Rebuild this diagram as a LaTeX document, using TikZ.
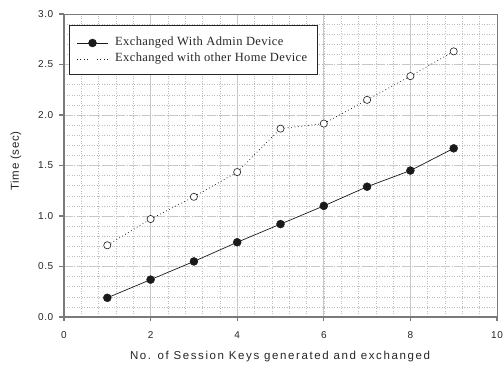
\documentclass[tikz,border=0pt]{standalone}
\usepackage{fontspec}
\setmainfont{Liberation Serif}
\newfontfamily\axfont[LetterSpace=6]{Liberation Sans}
\newfontfamily\axtitlefont[LetterSpace=14]{Liberation Sans}
\newfontfamily\legfont[LetterSpace=3]{Liberation Serif}
\definecolor{gridc}{HTML}{C8C8C8}
\definecolor{minorc}{HTML}{BDBDBD}
\definecolor{framec}{HTML}{7A7A7A}
\definecolor{markc}{HTML}{1A1A1A}
\tikzset{
  minorgrid/.style={minorc, line width=0.5pt, dash pattern=on 1pt off 1.5pt},
  majorv/.style={gridc, line width=0.7pt},
  majorh/.style={gridc, line width=0.8pt, dash pattern=on 9pt off 4pt},
  axisline/.style={framec, line width=1.1pt},
  frameline/.style={framec, line width=0.8pt},
  fillmark/.style={circle, fill=markc, draw=markc, inner sep=0pt, minimum size=8pt},
  openmark/.style={circle, fill=white, draw=markc, line width=0.6pt, inner sep=0pt, minimum size=7.2pt},
  solidline/.style={markc, line width=0.7pt},
  dotline/.style={markc, line width=0.7pt, dash pattern=on 0.8pt off 2.6pt},
  ticklab/.style={font=\axfont\fontsize{10}{12}\selectfont, text=black!85, inner sep=0pt},
  legtext/.style={font=\legfont\fontsize{12.5}{14}\selectfont, anchor=west, inner sep=0pt, text=black!85},
}
\begin{document}
\begin{tikzpicture}[x=1pt,y=1pt]
\useasboundingbox (0,0) rectangle (504,370);
\fill[white] (0,0) rectangle (504,370);
\begin{scope}[shift={(64,53)}, x=43.3pt, y=101pt]
  % minor grid
  \foreach \k in {1,...,24} \draw[minorgrid] (0.4*\k,0) -- (0.4*\k,3);
  \foreach \k in {1,...,29} \draw[minorgrid] (0,0.1*\k) -- (10,0.1*\k);
  % major grid
  \foreach \x in {2,4,6,8} \draw[majorv] (\x,0) -- (\x,3);
  \foreach \y in {0.5,1.0,1.5,2.0,2.5} \draw[majorh] (0,\y) -- (10,\y);
  % frame
  \draw[frameline] (0,3) -- (10,3) -- (10,0);
  \draw[axisline] (0,3) -- (0,0) -- (10,0);
  % ticks
  \foreach \x in {0,2,4,6,8,10} {
    \draw[axisline] (\x,0) -- ++(0,-4.5pt);
    \node[ticklab] (xt\x) at ([yshift=-18pt]\x,0) {\x};
  }
  \foreach \y/\l in {0/0.0,0.5/0.5,1/1.0,1.5/1.5,2/2.0,2.5/2.5,3/3.0} {
    \draw[axisline] (0,\y) -- ++(-5pt,0);
    \node[ticklab, anchor=east] (yt\l) at ([xshift=-10.5pt]0,\y) {\l};
  }
  % data: admin device
  \foreach \i/\v in {1/0.19,2/0.37,3/0.55,4/0.74,5/0.92,6/1.10,7/1.29,8/1.45,9/1.67}
    \coordinate (a\i) at (\i,\v);
  \draw[solidline] (a1) -- (a2) -- (a3) -- (a4) -- (a5) -- (a6) -- (a7) -- (a8) -- (a9);
  \foreach \i in {1,...,9} \node[fillmark] (am\i) at (a\i) {};
  % data: other home device
  \foreach \i/\v in {1/0.71,2/0.97,3/1.19,4/1.435,5/1.865,6/1.915,7/2.15,8/2.385,9/2.63}
    \node[openmark] (h\i) at (\i,\v) {};
  \foreach \i/\j in {1/2,2/3,3/4,4/5,5/6,6/7,7/8,8/9}
    \draw[dotline] (h\i) -- (h\j);
\end{scope}
% axis titles
\node[font=\axtitlefont\fontsize{11.5}{13}\selectfont, text=black!85] (xtitle) at (280,13) {No. of Session Keys generated and exchanged};
\node[font=\axfont\fontsize{11.5}{13}\selectfont, text=black!85, rotate=90] (ytitle) at (16,209) {Time (sec)};
% legend
\node[draw=black!85, line width=0.8pt, fill=white, minimum width=248pt, minimum height=49pt, inner sep=0pt] (legbox) at (193,320.5) {};
\coordinate (l1a) at (77,327); \coordinate (l1b) at (108,327);
\draw[solidline] (l1a) -- (l1b);
\node[fillmark] (l1m) at (92.5,327) {};
\node[legtext] (l1t) at (115,327.5) {Exchanged With Admin Device};
\coordinate (l2a) at (77,311); \coordinate (l2b) at (88,311);
\coordinate (l2c) at (97,311); \coordinate (l2d) at (108,311);
\draw[dotline] (l2a) -- (l2b);
\draw[dotline] (l2c) -- (l2d);
\node[legtext] (l2t) at (115,311.5) {Exchanged with other Home Device};
\end{tikzpicture}
\end{document}
